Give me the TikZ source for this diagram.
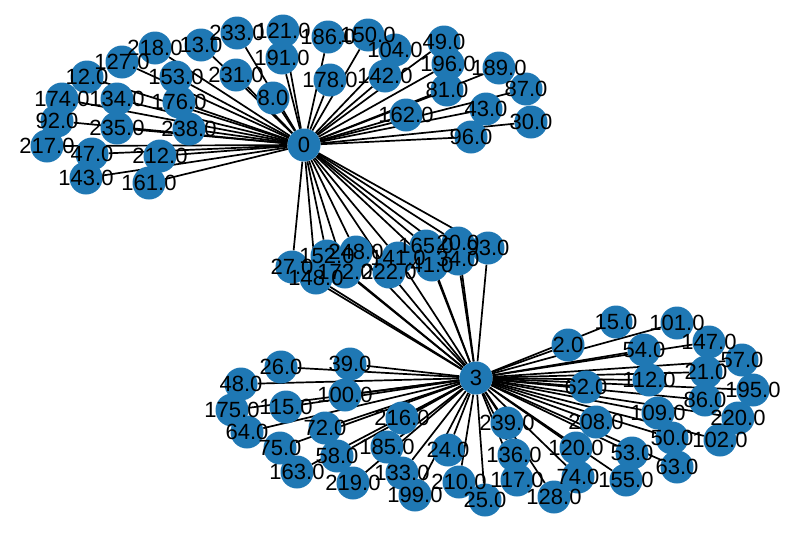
\documentclass[tikz,border=0pt]{standalone}
\usepackage{fontspec}
\setmainfont{Liberation Sans}
\usetikzlibrary{backgrounds}
\definecolor{nodeblue}{HTML}{1F78B4}
\tikzset{
  vert/.style={circle, fill=nodeblue, minimum size=33pt, inner sep=0pt},
  lbl/.style={font=\fontsize{22}{22}\selectfont, inner sep=0pt, text=black},
  edge/.style={line width=1.7pt, black}
}
\begin{document}
\begin{tikzpicture}[x=1pt,y=-1pt]
\useasboundingbox (0,0) rectangle (800,533);
% hubs
\node[vert] (h0) at (304,145) {};
\node[vert] (h3) at (476,378) {};
% leaves of hub 0
\foreach \i/\x/\y in {218/155/48, 13/201/45, 233/237/33, 121/283/31, 127/122/62, 12/87/77, 153/176/77, 231/236/75, 191/282/58, 8/273/98, 174/62/99, 134/117/99, 176/179/102, 92/57/121, 235/117/128, 238/189/129, 217/47/146, 47/92/154, 212/160/156, 143/86/178, 161/149/183, 186/328/37, 150/368/35, 104/395/50, 49/444/42, 178/330/80, 142/385/76, 196/448/64, 189/499/68, 81/447/90, 87/526/89, 162/406/115, 43/486/109, 30/531/122, 96/471/137}
  {\node[vert] (n\i) at (\x,\y) {};
   \begin{scope}[on background layer]\draw[edge] (n\i) -- (h0);\end{scope}}
% leaves of hub 3
\foreach \i/\x/\y in {26/281/367, 39/350/364, 48/241/384, 100/345/395, 175/232/410, 115/286/407, 64/247/432, 72/325/428, 216/402/418, 75/280/448, 58/337/456, 185/387/447, 24/448/450, 163/297/472, 219/353/483, 133/402/473, 199/415/495, 210/459/482, 25/485/500, 239/507/423, 136/514/455, 117/517/480, 128/554/497, 74/578/477, 120/576/448, 155/626/480, 208/596/422, 53/632/453, 63/677/467, 62/586/387, 109/658/413, 50/672/438, 102/720/440, 220/738/418, 195/753/390, 86/705/400, 112/649/380, 21/706/372, 57/742/360, 147/709/342, 54/644/350, 101/677/323, 15/616/322, 2/568/345}
  {\node[vert] (n\i) at (\x,\y) {};
   \begin{scope}[on background layer]\draw[edge] (n\i) -- (h3);\end{scope}}
% middle nodes joined to both hubs
\foreach \i/\x/\y in {27/292/267, 152/327/256, 148/316/278, 248/356/252, 172/345/272, 222/389/272, 141/398/258, 165/426/246, 41/432/265, 20/458/243, 34/458/259, 93/488/248}
  {\node[vert] (n\i) at (\x,\y) {};
   \begin{scope}[on background layer]\draw[edge] (n\i) -- (h0); \draw[edge] (n\i) -- (h3);\end{scope}}
% labels
\node[lbl] at (h0) {0};
\node[lbl] at (h3) {3};
\foreach \i in {218, 13, 233, 121, 127, 12, 153, 231, 191, 8, 174, 134, 176, 92, 235, 238, 217, 47, 212, 143, 161, 186, 150, 104, 49, 178, 142, 196, 189, 81, 87, 162, 43, 30, 96, 26, 39, 48, 100, 175, 115, 64, 72, 216, 75, 58, 185, 24, 163, 219, 133, 199, 210, 25, 239, 136, 117, 128, 74, 120, 155, 208, 53, 63, 62, 109, 50, 102, 220, 195, 86, 112, 21, 57, 147, 54, 101, 15, 2, 27, 152, 148, 248, 172, 222, 141, 165, 41, 20, 34, 93}
  {\node[lbl] at (n\i) {\i.0};}
\end{tikzpicture}
\end{document}
